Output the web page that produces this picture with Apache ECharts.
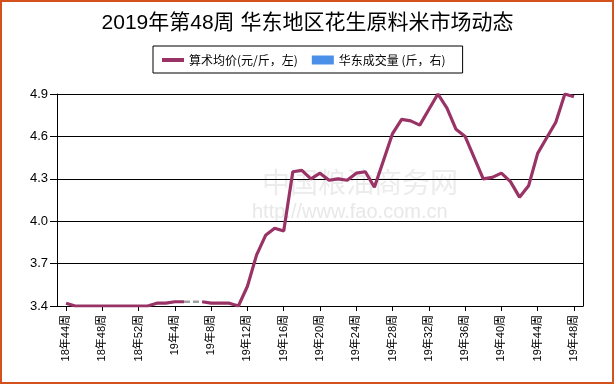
<!DOCTYPE html>
<html>
<head>
<meta charset="utf-8">
<script src="https://cdn.jsdelivr.net/npm/echarts@6/dist/echarts.min.js"></script>
<style>
html,body{margin:0;padding:0;background:#fff;}
#chart{width:615px;height:385px;}
</style>
</head>
<body>
<div id="chart"></div>
<script>
const titleText = '2019年第48周 华东地区花生原料米市场动态';
const priceName = '算术均价(元/斤，左)';
const volumeName = '华东成交量 (斤，右)';
const weeks = [
  '18年44周','18年45周','18年46周','18年47周','18年48周','18年49周','18年50周','18年51周','18年52周',
  '19年1周','19年2周','19年3周','19年4周','19年5周','19年6周','19年7周','19年8周','19年9周','19年10周',
  '19年11周','19年12周','19年13周','19年14周','19年15周','19年16周','19年17周','19年18周','19年19周','19年20周',
  '19年21周','19年22周','19年23周','19年24周','19年25周','19年26周','19年27周','19年28周','19年29周','19年30周',
  '19年31周','19年32周','19年33周','19年34周','19年35周','19年36周','19年37周','19年38周','19年39周','19年40周',
  '19年41周','19年42周','19年43周','19年44周','19年45周','19年46周','19年47周','19年48周'
];
const prices = [
  3.42,3.40,3.40,3.40,3.40,3.40,3.40,3.40,3.40,
  3.40,3.42,3.42,3.43,3.43,null,3.43,3.42,3.42,3.42,
  3.40,3.54,3.76,3.90,3.95,3.93,4.35,4.36,4.30,4.34,
  4.29,4.30,4.29,4.34,4.35,4.24,4.43,4.62,4.72,4.71,
  4.68,4.79,4.90,4.80,4.65,4.60,4.45,4.30,4.31,4.34,
  4.28,4.17,4.25,4.48,4.59,4.70,4.90,4.88
];
const volumes = weeks.map(() => null);
const yTicks = [3.4, 3.7, 4.0, 4.3, 4.6, 4.9];

// padded category axis (one empty slot at each end)
const xData = [''].concat(weeks, [' ']);
const priceData = [null].concat(prices, [null]);
const volumeData = [null].concat(volumes, [null]);
const gapData = priceData.map(() => null);
for (let i = 1; i < priceData.length - 1; i++) {
  if (priceData[i] === null && priceData[i-1] !== null && priceData[i+1] !== null) {
    gapData[i-1] = priceData[i-1];
    gapData[i+1] = priceData[i+1];
  }
}
const showIdx = (idx) => idx >= 1 && idx <= weeks.length && (idx - 1) % 4 === 0;
const FONT = 'Arial, "Liberation Sans", "Noto Sans CJK SC", sans-serif';

const chart = echarts.init(document.getElementById('chart'), null, {renderer: 'canvas'});
chart.setOption({
  animation: false,
  backgroundColor: '#fff',
  title: {
    text: titleText,
    left: 'center',
    top: 8,
    textStyle: {fontSize: 21, fontWeight: 'normal', color: '#000', fontFamily: FONT}
  },
  legend: {
    data: [
      {name: priceName, icon: 'path://M0,0 L22,0 L22,4 L0,4 Z'},
      {name: volumeName, icon: 'rect'}
    ],
    left: 153,
    top: 46,
    padding: [8, 17, 7, 9],
    itemGap: 14,
    itemWidth: 22,
    itemHeight: 9,
    borderColor: '#000',
    borderWidth: 1,
    backgroundColor: '#fff',
    textStyle: {fontSize: 12, color: '#000', fontFamily: '"Noto Sans CJK SC", sans-serif'}
  },
  graphic: [
    {type: 'rect', shape: {x: 1, y: 1, width: 612, height: 382}, style: {fill: 'none', stroke: '#d4501c', lineWidth: 2}, z: 100},
    {type: 'text', left: 262, top: 168, style: {text: '中国粮油商务网', fontSize: 28, fill: '#ececec', fontFamily: '"Noto Sans CJK SC", sans-serif'}, z: -1},
    {type: 'text', left: 252, top: 202, style: {text: 'http://www.fao.com.cn', fontSize: 20, fill: '#e8e8e8', fontFamily: FONT}, z: -1}
  ],
  grid: {left: 57, right: 32, top: 94, bottom: 79, containLabel: false},
  xAxis: {
    type: 'category',
    data: xData,
    boundaryGap: false,
    axisLine: {lineStyle: {color: '#000', width: 1}},
    axisTick: {show: true, interval: showIdx, length: 5, lineStyle: {color: '#000'}},
    axisLabel: {interval: showIdx, rotate: 90, margin: 9, fontSize: 11, color: '#000', fontFamily: FONT},
    splitLine: {show: false}
  },
  yAxis: [
    {
      type: 'value',
      min: 3.4,
      max: 4.9,
      axisLine: {show: true, lineStyle: {color: '#000', width: 1}},
      axisTick: {show: true, length: 7, customValues: yTicks, lineStyle: {color: '#000'}},
      axisLabel: {customValues: yTicks, fontSize: 13, color: '#000', margin: 9, fontFamily: FONT,
        formatter: (v) => v.toFixed(1)},
      splitLine: {show: true, lineStyle: {color: '#000', width: 1}}
    },
    {
      type: 'value',
      min: 0,
      max: 1,
      position: 'right',
      axisLine: {show: true, lineStyle: {color: '#000', width: 1}},
      axisTick: {show: false},
      axisLabel: {show: false},
      splitLine: {show: false}
    }
  ],
  series: [
    {
      name: priceName,
      type: 'line',
      data: priceData,
      yAxisIndex: 0,
      showSymbol: false,
      symbol: 'none',
      connectNulls: false,
      lineStyle: {color: '#993366', width: 3.2},
      itemStyle: {color: '#993366'},
      z: 5
    },
    {
      name: '__gap',
      type: 'line',
      data: gapData,
      yAxisIndex: 0,
      showSymbol: false,
      symbol: 'none',
      connectNulls: true,
      lineStyle: {color: '#a0a0a0', width: 2.5, type: [6, 3]},
      itemStyle: {color: '#a0a0a0'},
      z: 4
    },
    {
      name: volumeName,
      type: 'bar',
      data: volumeData,
      yAxisIndex: 1,
      itemStyle: {color: '#4a90e8'}
    }
  ]
});
</script>
</body>
</html>
